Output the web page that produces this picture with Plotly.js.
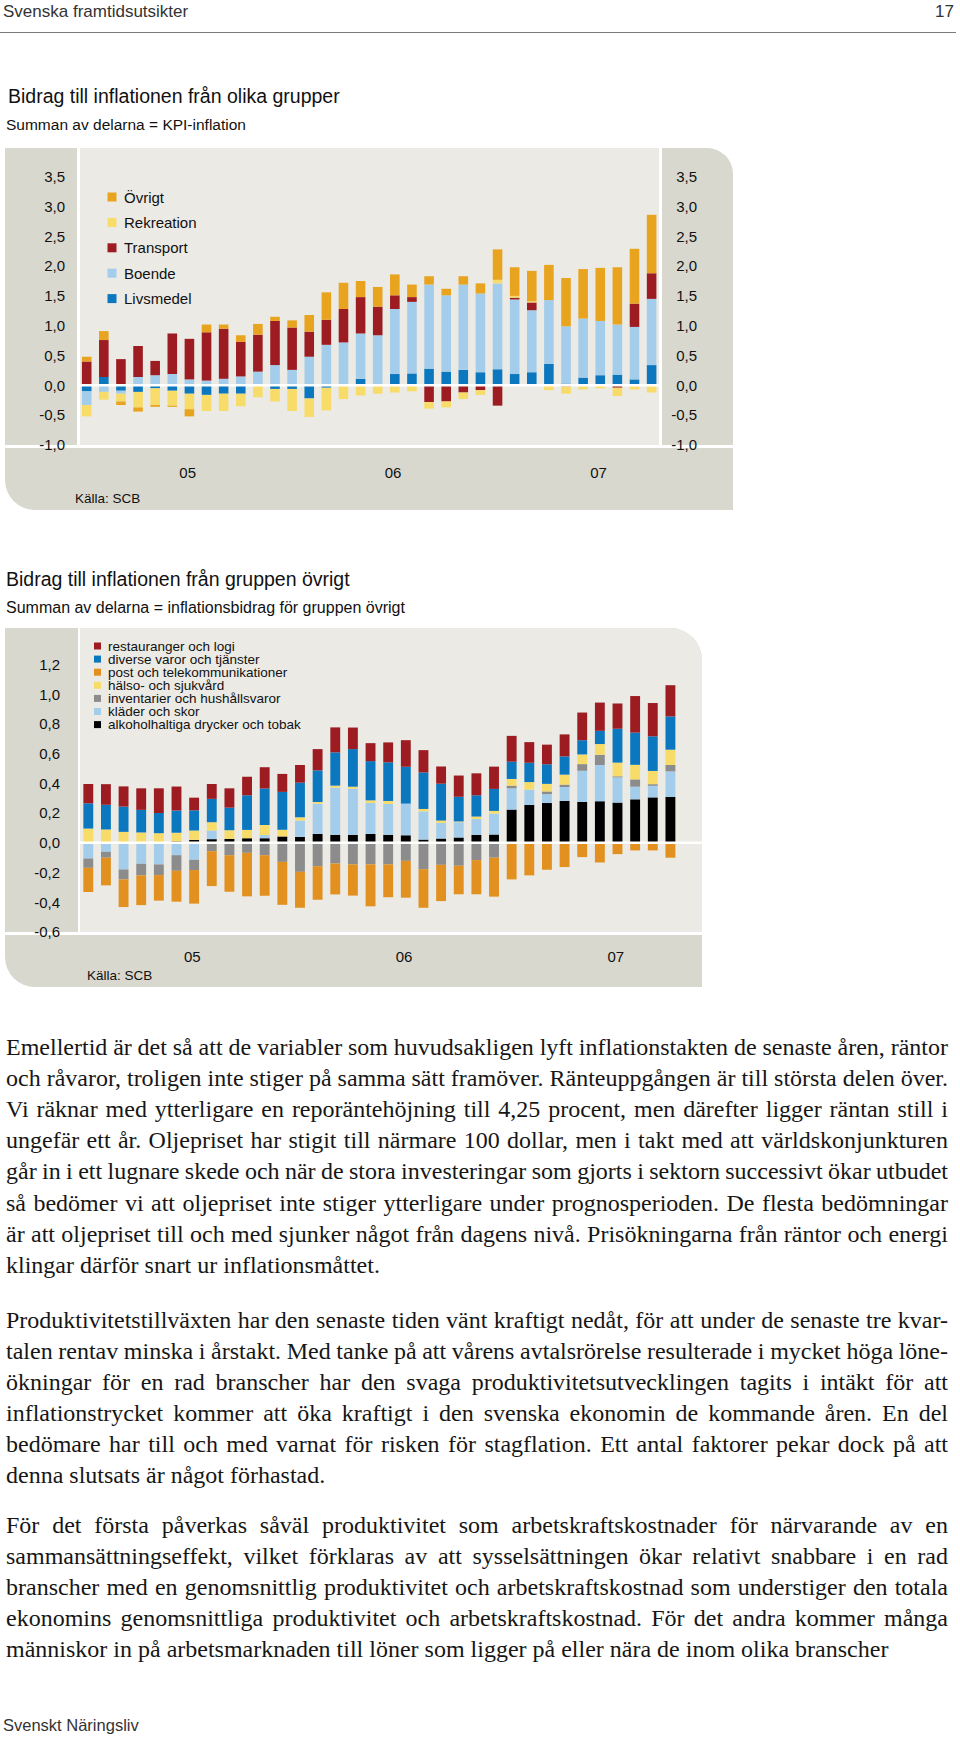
<!DOCTYPE html>
<html><head><meta charset="utf-8">
<script src="https://cdn.plot.ly/plotly-3.0.1.min.js"></script>
<style>
body{margin:0;background:#fff;}
#page{position:relative;width:960px;height:1739px;overflow:hidden;background:#fff;font-family:"Liberation Sans",Arial,sans-serif;color:#111;}
.t{position:absolute;white-space:nowrap;}
.bg{position:absolute;box-sizing:border-box;}
.body{position:absolute;left:6px;width:942px;font-family:"Liberation Serif","Times New Roman",serif;font-size:24px;line-height:31px;height:31px;color:#161616;white-space:nowrap;}
.plot{position:absolute;}
</style></head>
<body><div id="page">
<div class="t" style="left:3px;top:1px;font-size:17px;line-height:22px;color:#333;">Svenska framtidsutsikter</div>
<div class="t" style="right:6px;top:1px;font-size:17px;line-height:22px;color:#333;">17</div>
<div class="bg" style="left:0;top:32px;width:956px;height:1px;background:#7a7a7a;"></div>

<div class="t" style="left:8px;top:83px;font-size:19.5px;line-height:26px;">Bidrag till inflationen från olika grupper</div>
<div class="t" style="left:6px;top:115px;font-size:15.5px;line-height:20px;">Summan av delarna = KPI-inflation</div>
<div class="bg" style="left:5px;top:148px;width:728px;height:362px;background:#d9d8ce;border-radius:0 26px 0 30px;"></div>
<div class="bg" style="left:77px;top:148px;width:585px;height:297px;background:#ebeae5;border-left:3px solid #fff;border-right:3px solid #fff;"></div>
<div class="bg" style="left:5px;top:445px;width:728px;height:3px;background:#fff;"></div>
<div id="c1" class="plot" style="left:5px;top:148px;width:728px;height:362px;"></div>

<div class="t" style="left:6px;top:566px;font-size:19.5px;line-height:26px;">Bidrag till inflationen från gruppen övrigt</div>
<div class="t" style="left:6px;top:598px;font-size:16px;line-height:20px;">Summan av delarna = inflationsbidrag för gruppen övrigt</div>
<div class="bg" style="left:5px;top:628px;width:697px;height:359px;background:#d9d8ce;border-radius:0 32px 0 30px;"></div>
<div class="bg" style="left:78px;top:628px;width:624px;height:304px;background:#ebeae5;border-left:2px solid #fff;border-top-right-radius:32px;"></div>
<div class="bg" style="left:5px;top:932px;width:697px;height:3px;background:#fff;"></div>
<div id="c2" class="plot" style="left:5px;top:628px;width:697px;height:359px;"></div>

<div id="bodytext"></div>
<div class="t" style="left:3px;top:1714px;font-size:16.5px;line-height:22px;color:#333;">Svenskt Näringsliv</div>
</div>
<script>
// ---------- shared categories ----------
const months = ['2005-01','2005-02','2005-03','2005-04','2005-05','2005-06','2005-07','2005-08','2005-09','2005-10','2005-11','2005-12',
'2006-01','2006-02','2006-03','2006-04','2006-05','2006-06','2006-07','2006-08','2006-09','2006-10','2006-11','2006-12',
'2007-01','2007-02','2007-03','2007-04','2007-05','2007-06','2007-07','2007-08','2007-09','2007-10'];
const yearLabels = ['05','06','07'];

// ---------- chart 1: Bidrag till inflationen från olika grupper ----------
const groups1 = ['Livsmedel','Boende','Transport','Rekreation','Övrigt'];
const colors1 = ['#0b77bf','#a3cdea','#9c1c22','#f8dc6a','#e8a41f'];
const livsmedel = [-0.10,0.14,-0.09,-0.11,-0.05,-0.09,-0.14,-0.16,-0.14,-0.14,0,-0.06,-0.06,-0.22,-0.04,0,0.11,0.02,0.19,0.20,0.28,0.23,0.26,0.22,0.27,0.19,0.22,0.36,0.03,0.13,0.17,0.18,0.10,0.34];
const boende = [-0.23,-0.11,-0.05,0.14,0.17,0.19,0.10,0.08,0.11,0.15,0.23,0.34,0.26,0.48,0.68,0.72,0.76,0.82,1.09,1.20,1.41,1.28,1.43,1.32,1.44,1.25,1.04,1.07,0.96,0.99,0.91,0.84,0.88,1.11];
const transport = [0.40,0.62,0.44,0.52,0.24,0.68,0.68,0.81,0.84,0.58,0.62,0.74,0.71,0.42,0.42,0.56,0.61,0.48,0.23,0.08,-0.28,-0.27,-0.12,-0.08,-0.34,0.03,0.13,0,-0.02,0,0,-0.04,0.39,0.43];
const rekreation = [-0.19,-0.13,-0.13,-0.26,-0.28,-0.25,-0.26,-0.27,-0.29,-0.21,-0.20,-0.21,-0.37,-0.31,-0.38,-0.23,-0.17,-0.14,-0.12,-0.10,-0.11,-0.10,-0.11,-0.08,0.06,0.03,0.02,-0.08,-0.12,-0.07,-0.05,-0.14,-0.07,-0.12];
const ovrigt = [0.08,0.15,-0.06,-0.07,-0.03,-0.02,-0.12,0.13,0.07,0.11,0.18,0.07,0.12,0.28,0.46,0.44,0.27,0.33,0.35,0.21,0.14,0.11,0.14,0.17,0.51,0.48,0.51,0.59,0.81,0.83,0.89,0.96,0.92,0.98];
const yTicks1 = [-1,-0.5,0,0.5,1,1.5,2,2.5,3,3.5];

// ---------- chart 2: Bidrag till inflationen från gruppen övrigt ----------
const groups2 = ['alkoholhaltiga drycker och tobak','kläder och skor','inventarier och hushållsvaror','hälso- och sjukvård','post och telekommunikationer','diverse varor och tjänster','restauranger och logi'];
const colors2 = ['#000000','#a3cdea','#8c8c8c','#f8dc6a','#e2901f','#0b77bf','#9c1c22'];
const alkohol = [0,0,0,0,0,0.01,0.02,0.025,0.027,0.031,0.031,0.043,0.04,0.06,0.054,0.054,0.06,0.054,0.051,0.022,0.029,0.036,0.054,0.056,0.224,0.255,0.268,0.282,0.275,0.28,0.271,0.293,0.306,0.309];
const klader = [-0.105,-0.06,-0.179,-0.141,-0.145,-0.083,-0.114,0.058,0,0,0.022,0,0.11,0.204,0.318,0.311,0.208,0.208,0.213,0.19,0.105,0.103,0.107,0.141,0.143,0.103,0.06,0.094,0.21,0.244,0.17,0.085,0.078,0.172];
const inventarier = [-0.063,-0.04,-0.067,-0.078,-0.072,-0.105,-0.069,-0.056,-0.083,-0.067,-0.083,-0.128,-0.195,-0.157,-0.139,-0.145,-0.145,-0.145,-0.121,-0.177,-0.148,-0.154,-0.116,-0.10,0.018,0,0.018,0.016,0.045,0.069,0.007,0.049,0.011,0.043];
const halso = [0.096,0.09,0.074,0.07,0.065,0.058,0.063,0.056,0.058,0.056,0.067,0.045,0.022,0.011,0.013,0.013,0.018,0.02,0,0.016,0.016,0.005,0.016,0.018,0.045,0.051,0.051,0.067,0.065,0.072,0.092,0.098,0.089,0.103];
const post = [-0.163,-0.186,-0.186,-0.20,-0.172,-0.208,-0.226,-0.235,-0.246,-0.293,-0.273,-0.289,-0.242,-0.226,-0.208,-0.21,-0.282,-0.221,-0.248,-0.26,-0.244,-0.192,-0.23,-0.262,-0.246,-0.219,-0.181,-0.163,-0.096,-0.132,-0.076,-0.051,-0.051,-0.10];
const diverse = [0.17,0.166,0.17,0.152,0.136,0.15,0.136,0.157,0.152,0.233,0.246,0.255,0.233,0.213,0.224,0.253,0.264,0.26,0.248,0.246,0.248,0.166,0.143,0.148,0.116,0.13,0.132,0.123,0.096,0.089,0.228,0.217,0.233,0.224];
const restauranger = [0.13,0.139,0.136,0.145,0.166,0.161,0.085,0.10,0.13,0.125,0.143,0.121,0.119,0.143,0.168,0.145,0.121,0.134,0.179,0.15,0.116,0.143,0.148,0.15,0.174,0.139,0.132,0.148,0.186,0.19,0.17,0.246,0.224,0.21];
const yTicks2 = [-0.6,-0.4,-0.2,0,0.2,0.4,0.6,0.8,1.0,1.2];

const FONT = '"Liberation Sans", Arial, sans-serif';
const xIdx = months.map((m,i)=>i);
const yearTickVals = yearLabels.map(y => months.indexOf('20'+y+'-07') - 0.1);
const fmt = v => v.toFixed(1).replace('.', ',');

function mkTraces(series, names, colors){
  return series.map((s,k)=>({type:'bar', x:xIdx, y:s, name:names[k], marker:{color:colors[k], line:{width:0}}, hoverinfo:'skip'}));
}
function legendBits(W,H,left,top,items,colors,x0,y0,dy,sq,tx,fs){
  const shapes=[], ann=[];
  items.forEach((name,k)=>{
    const cy = y0 + dy*k;
    shapes.push({type:'rect', xref:'paper', yref:'paper', layer:'above',
      x0:(x0-sq/2-left)/W, x1:(x0+sq/2-left)/W, y0:1-(cy+sq/2-top)/H, y1:1-(cy-sq/2-top)/H,
      fillcolor:colors[k], line:{width:0}});
    ann.push({xref:'paper', yref:'paper', x:(tx-left)/W, y:1-(cy-top)/H, text:name, showarrow:false,
      xanchor:'left', yanchor:'middle', font:{family:FONT,size:fs,color:'#111'}, borderpad:0});
  });
  return {shapes, ann};
}

// ----- chart 1 -----
(function(){
  const W=728,H=362,L=5,T=148;
  const traces = mkTraces([livsmedel,boende,transport,rekreation,ovrigt], groups1, colors1);
  traces.push({type:'scatter', x:[], y:[], yaxis:'y2', showlegend:false, hoverinfo:'skip'});
  const revNames = groups1.slice().reverse(), revCols = colors1.slice().reverse();
  const lg = legendBits(W,H,L,T,revNames,revCols,112,197,25.4,9,123,15);
  lg.shapes.push({type:'line', xref:'x domain', x0:0, x1:1, yref:'y', y0:0, y1:0, line:{color:'#ffffff', width:2.5}, layer:'above'});
  lg.ann.push({xref:'paper', yref:'paper', x:(74-L)/W, y:1-(498-T)/H, text:'Källa: SCB', showarrow:false, xanchor:'left', yanchor:'middle', font:{family:FONT,size:13.5,color:'#111'}, borderpad:0});
  const yax = {range:[-1,3.98], tickvals:yTicks1, ticktext:yTicks1.map(fmt), showgrid:false, zeroline:false, showline:false, ticks:'', tickfont:{family:FONT,size:15,color:'#111'}, automargin:false, fixedrange:true};
  const layout = {
    width:W, height:H, margin:{l:0,r:0,t:0,b:0}, paper_bgcolor:'rgba(0,0,0,0)', plot_bgcolor:'rgba(0,0,0,0)',
    barmode:'relative', bargap:0.44, showlegend:false,
    xaxis:{domain:[74/W,655/W], range:[-0.45,33.49], tickvals:yearTickVals, ticktext:yearLabels, showgrid:false, zeroline:false, showline:false, ticks:'', tickfont:{family:FONT,size:15,color:'#111'}, ticklabelstandoff:17, automargin:false, fixedrange:true},
    yaxis:Object.assign({domain:[1-297/H,1], ticklabelstandoff:13}, yax),
    yaxis2:Object.assign({overlaying:'y', anchor:'free', position:(697-L)/W, side:'left', ticklabelstandoff:0}, yax),
    shapes:lg.shapes, annotations:lg.ann
  };
  Plotly.newPlot('c1', traces, layout, {staticPlot:true, displayModeBar:false});
})();

// ----- chart 2 -----
(function(){
  const W=697,H=359,L=5,T=628;
  const traces = mkTraces([alkohol,klader,inventarier,halso,post,diverse,restauranger], groups2, colors2);
  const revNames = groups2.slice().reverse(), revCols = colors2.slice().reverse();
  const lg = legendBits(W,H,L,T,revNames,revCols,97.5,646,13.1,7,107,13.5);
  lg.shapes.push({type:'line', xref:'x domain', x0:0, x1:1, yref:'y', y0:0, y1:0, line:{color:'#ffffff', width:2.5}, layer:'above'});
  lg.ann.push({xref:'paper', yref:'paper', x:(86-L)/W, y:1-(975-T)/H, text:'Källa: SCB', showarrow:false, xanchor:'left', yanchor:'middle', font:{family:FONT,size:13.5,color:'#111'}, borderpad:0});
  const layout = {
    width:W, height:H, margin:{l:0,r:0,t:0,b:0}, paper_bgcolor:'rgba(0,0,0,0)', plot_bgcolor:'rgba(0,0,0,0)',
    barmode:'relative', bargap:0.44, showlegend:false,
    xaxis:{domain:[75/W,1], range:[-0.47,34.79], tickvals:yearTickVals, ticktext:yearLabels, showgrid:false, zeroline:false, showline:false, ticks:'', tickfont:{family:FONT,size:15,color:'#111'}, ticklabelstandoff:14, automargin:false, fixedrange:true},
    yaxis:{domain:[1-304/H,1], range:[-0.6,1.446], tickvals:yTicks2, ticktext:yTicks2.map(fmt), showgrid:false, zeroline:false, showline:false, ticks:'', tickfont:{family:FONT,size:15,color:'#111'}, ticklabelstandoff:19, automargin:false, fixedrange:true},
    shapes:lg.shapes, annotations:lg.ann
  };
  Plotly.newPlot('c2', traces, layout, {staticPlot:true, displayModeBar:false});
})();

// ---------- body text ----------
const paragraphs = [
 {y:1047.5, lines:[
  'Emellertid är det så att de variabler som huvudsakligen lyft inflationstakten de senaste åren, räntor',
  'och råvaror, troligen inte stiger på samma sätt framöver. Ränteuppgången är till största delen över.',
  'Vi räknar med ytterligare en reporäntehöjning till 4,25 procent, men därefter ligger räntan still i',
  'ungefär ett år. Oljepriset har stigit till närmare 100 dollar, men i takt med att världskonjunkturen',
  'går in i ett lugnare skede och när de stora investeringar som gjorts i sektorn successivt ökar utbudet',
  'så bedömer vi att oljepriset inte stiger ytterligare under prognosperioden. De flesta bedömningar',
  'är att oljepriset till och med sjunker något från dagens nivå. Prisökningarna från räntor och energi',
  'klingar därför snart ur inflationsmåttet.']},
 {y:1320.2, lines:[
  'Produktivitetstillväxten har den senaste tiden vänt kraftigt nedåt, för att under de senaste tre kvar-',
  'talen rentav minska i årstakt. Med tanke på att vårens avtalsrörelse resulterade i mycket höga löne-',
  'ökningar för en rad branscher har den svaga produktivitetsutvecklingen tagits i intäkt för att',
  'inflationstrycket kommer att öka kraftigt i den svenska ekonomin de kommande åren. En del',
  'bedömare har till och med varnat för risken för stagflation. Ett antal faktorer pekar dock på att',
  'denna slutsats är något förhastad.']},
 {y:1525.3, lines:[
  'För det första påverkas såväl produktivitet som arbetskraftskostnader för närvarande av en',
  'sammansättningseffekt, vilket förklaras av att sysselsättningen ökar relativt snabbare i en rad',
  'branscher med en genomsnittlig produktivitet och arbetskraftskostnad som understiger den totala',
  'ekonomins genomsnittliga produktivitet och arbetskraftskostnad. För det andra kommer många',
  'människor in på arbetsmarknaden till löner som ligger på eller nära de inom olika branscher']}
];
const bodyEl = document.getElementById('bodytext');
const LINE = 31.1, TW = 942;
paragraphs.forEach((p,pi)=>{
  p.lines.forEach((txt,li)=>{
    const d = document.createElement('div');
    d.className='body';
    d.style.top = (p.y + li*LINE - 15.5) + 'px';
    const s = document.createElement('span');
    s.textContent = txt;
    d.appendChild(s);
    bodyEl.appendChild(d);
    const last = (li === p.lines.length-1);
    if(!last){
      const w = s.getBoundingClientRect().width;
      const n = (txt.match(/ /g)||[]).length;
      if(n>0) s.style.wordSpacing = ((TW - w)/n) + 'px';
    }
  });
});
</script>
</body></html>
